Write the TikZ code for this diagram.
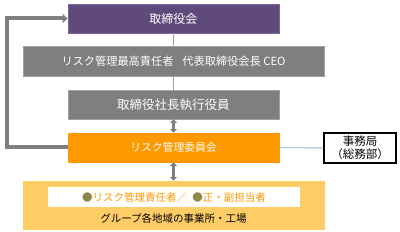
\documentclass[tikz,border=0pt]{standalone}
\usepackage{fontspec}
\setmainfont{Noto Sans CJK JP}
\usetikzlibrary{arrows.meta}
\definecolor{purp}{HTML}{5F4A7B}
\definecolor{purpb}{HTML}{7E66A0}
\definecolor{grayf}{HTML}{7F7F7F}
\definecolor{grayb}{HTML}{A0A0A0}
\definecolor{orng}{HTML}{FF9900}
\definecolor{yell}{HTML}{FFCC66}
\definecolor{olive}{HTML}{8C8848}
\definecolor{ltblue}{HTML}{8DB4E2}
\begin{document}
\begin{tikzpicture}[x=1pt,y=-1pt,
  box/.style={draw, line width=0.8pt, minimum width=211pt, minimum height=29pt, inner sep=0pt, text=white},
  dbl/.style={draw=grayf, line width=2.6pt, {Triangle[width=7pt,length=3.5pt]}-{Triangle[width=7pt,length=3.5pt]}},
  thin/.style={draw=grayb, line width=0.8pt}]
\useasboundingbox (0,0) rectangle (400,232);
\node[box, fill=purp, draw=purpb, font=\fontsize{12}{14}\selectfont] (board) at (173.5,18.5) {取締役会};
\node[box, fill=grayf, draw=grayb, minimum width=301pt, minimum height=30pt, font=\fontsize{11.2}{13}\selectfont] (cro) at (173.5,61) {リスク管理最高責任者\hspace{0.8em}代表取締役会長 CEO};
\node[box, fill=grayf, draw=grayb, font=\fontsize{12.5}{14}\selectfont] (pres) at (173.5,104.5) {取締役社長執行役員};
\node[box, fill=orng, draw=orng, font=\fontsize{10.8}{13}\selectfont] (comm) at (173.5,147.5) {リスク管理委員会};
\node[box, fill=yell, draw=yell, minimum width=301pt, minimum height=48pt] (site) at (173.5,205) {};
\node[fill=white, minimum width=252pt, minimum height=20pt, inner sep=0pt, font=\fontsize{10.5}{12}\selectfont] (resp) at (174,197.5) {\textcolor{olive}{●}\textcolor{orng}{リスク管理責任者／\hspace{0.5em}}\textcolor{olive}{●}\textcolor{orng}{正・副担当者}};
\node[font=\fontsize{10.5}{12}\selectfont, inner sep=0pt] (sitelbl) at (173.5,218.5) {グループ各地域の事業所・工場};
\node[draw=black, line width=1.2pt, fill=white, minimum width=72pt, minimum height=30pt, inner sep=0pt, align=center, font=\fontsize{11.5}{13}\selectfont] (sec) at (360,148) {事務局\\（総務部）};
\draw[thin] (board) -- (cro);
\draw[thin] (cro) -- (pres);
\draw[dbl] (pres) -- (comm);
\draw[dbl] (comm) -- (site);
\draw[ltblue, line width=0.8pt] (comm) -- (sec);
\coordinate (fb1) at (6.5,147.5);
\coordinate (fb2) at (6.5,18.5);
\draw[grayf, line width=4pt, line join=miter, -{Triangle[width=9pt,length=5pt]}] (comm.west) -- (fb1) -- (fb2) -- (board.west);
\end{tikzpicture}
\end{document}
